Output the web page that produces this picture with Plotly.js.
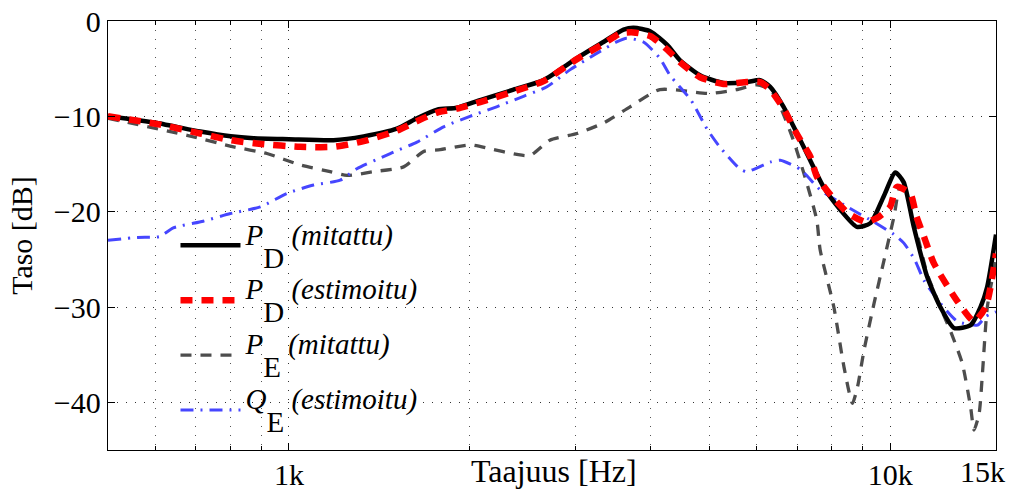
<!DOCTYPE html>
<html>
<head>
<meta charset="utf-8">
<script src="https://cdn.plot.ly/plotly-3.0.1.min.js"></script>
<style>html,body{margin:0;padding:0;background:#fff}#chart{width:1009px;height:491px}</style>
</head>
<body>
<div id="chart"></div>
<script>
// P_D (mitattu)
var fPDm = [500,603,712,800,873,1000,1186,1331,1512,1633,1764,1903,2080,2363,2652,3013,3335,3603,3743,3995,4257,4469,4828,5279,5776,6076,6316,6649,7000,7362,7748,8262,8806,9273,9755,10200,10530,10950,11520,12120,12770,13610,14140,14500,15000];
var PDm  = [-10.0,-10.7,-11.6,-12.1,-12.3,-12.4,-12.5,-12.1,-11.3,-10.2,-9.3,-9.1,-8.3,-7.2,-6.2,-3.9,-2.2,-0.9,-0.7,-1.1,-2.5,-4.1,-5.7,-6.5,-6.4,-6.2,-6.9,-9.0,-11.8,-14.6,-17.4,-19.8,-21.6,-21.2,-18.4,-15.9,-16.9,-21.6,-26.8,-30.0,-32.2,-31.9,-30.0,-27.9,-22.4];
// P_D (estimoitu)
var fPDe = [500,603,712,800,900,1044,1186,1331,1512,1633,1764,1903,2080,2363,2652,3013,3335,3556,3743,3995,4257,4469,4828,5279,5776,6076,6316,6649,7000,7362,7552,7996,8531,9130,9600,9998,10260,10800,11060,11380,11820,12940,13790,14420,15000];
var PDe  = [-10.0,-10.8,-11.8,-12.5,-12.9,-13.2,-13.2,-12.6,-11.5,-10.5,-9.6,-9.2,-8.5,-7.4,-6.3,-4.0,-2.4,-1.3,-1.2,-1.6,-3.0,-4.3,-5.9,-6.6,-6.4,-6.4,-7.2,-9.2,-11.9,-14.2,-16.3,-18.4,-20.2,-21.1,-20.5,-19.5,-17.4,-18.1,-20.5,-22.6,-25.4,-29.4,-31.5,-30.0,-24.4];
// P_E (mitattu)
var fPEm = [500,677,809,919,1044,1171,1249,1383,1551,1674,1785,2000,2160,2393,2520,2716,3013,3335,3693,4138,5016,5549,6000,6316,6565,6903,7267,7552,7648,8060,8380,8655,8824,9050,9404,9768,10150,10390,10700,11090,11520,12120,12650,13180,13610,13790,14060,14240,14510,15000];
var PEm  = [-10.2,-12.0,-13.2,-13.9,-15.1,-15.8,-16.2,-15.8,-15.3,-13.7,-13.5,-13.0,-13.4,-14.0,-14.1,-12.5,-11.8,-10.7,-9.0,-7.2,-7.6,-7.2,-6.7,-7.2,-9.0,-12.5,-17.0,-20.9,-24.0,-30.0,-36.3,-40.1,-38.4,-34.5,-29.6,-25.1,-20.5,-17.4,-18.1,-22.3,-26.5,-30.0,-32.8,-35.9,-40.5,-42.9,-41.2,-37.0,-30.0,-25.0];
// Q_E (estimoitu)
var fQEe = [500,560,610,642,720,799,896,992,1099,1217,1297,1474,1633,1808,2000,2215,2455,2686,2937,3249,3508,3645,3887,4138,4304,4663,4956,5206,5622,5776,6316,6565,7100,7648,8490,9404,10150,10540,11000,11380,12120,12940,13970,14420,15000];
var QEe  = [-23.0,-22.7,-22.6,-21.7,-21.0,-20.2,-19.5,-18.1,-17.2,-16.7,-15.5,-13.9,-12.7,-11.1,-10.0,-9.0,-7.9,-6.9,-5.1,-3.4,-2.2,-1.8,-2.2,-3.9,-5.7,-8.3,-11.3,-13.2,-15.5,-15.8,-14.8,-14.6,-15.6,-17.7,-19.5,-21.1,-22.4,-23.3,-25.1,-27.2,-29.6,-31.5,-31.9,-31.0,-30.5];

var legSym  = ['P','P','P','Q'];
var legSub  = ['D','D','E','E'];
var legDesc = ['mitattu','estimoitu','mitattu','estimoitu'];
var xTickVals = [1000,10000,15000];
var xTickText = ['1k','10k','15k'];
var xMinorVals = [600,700,800,900,2000,3000,4000,5000,6000,7000,8000,9000];
var yTickVals = [-40,-30,-20,-10,0];

function legName(i){
  return '<span style="baseline-shift:12px"><i>' + legSym[i] + '</i>' +
         '<span style="baseline-shift:-23px">' + legSub[i] + '</span> ' +
         '<i>(' + legDesc[i] + ')</i></span>';
}

var font = 'Liberation Serif, Times New Roman, serif';
var gridDash = '1px,8px';

var traces = [
  {x:fPDm, y:PDm, line:{color:'#000000', width:4.5}},
  {x:fPDe, y:PDe, line:{color:'#ff0000', width:6.5, dash:'12px,9px'}},
  {x:fPEm, y:PEm, line:{color:'#4d4d4d', width:3.3, dash:'11px,9px'}},
  {x:fQEe, y:QEe, line:{color:'#4646ff', width:3, dash:'13px,7px,2px,7px'}}
];
traces.forEach(function(t, i){
  t.type='scatter'; t.mode='lines'; t.hoverinfo='skip';
  t.name = legName(i); t.legendrank = i+1; t.legendgroup = 'g'+i;
  t.line.shape = 'spline'; t.line.smoothing = 0.6;
});
// draw order: gray and blue below, black then red on top
traces = [traces[2], traces[3], traces[0], traces[1]];

// the last tick label sits left of its tick (as in the reference) so it stays inside the page
var shownTickText = xTickText.slice(0, 2).concat(['']);

var layout = {
  width:1009, height:491,
  margin:{l:108, r:13, t:21, b:41},
  paper_bgcolor:'#ffffff', plot_bgcolor:'#ffffff',
  font:{family:font, size:30, color:'#000'},
  showlegend:true,
  legend:{x:0.076, xanchor:'left', y:0.5363, yanchor:'top', bgcolor:'rgba(0,0,0,0)', borderwidth:0,
          font:{family:font, size:29, color:'#000'}, itemwidth:60, tracegroupgap:14.2, traceorder:'grouped'},
  xaxis:{type:'log', range:[Math.log10(500), Math.log10(15000)], tickmode:'array', tickvals:xTickVals, ticktext:shownTickText,
         ticks:'inside', ticklen:7, tickcolor:'#000', showline:true, linecolor:'#000', linewidth:1.3, mirror:'ticks',
         showgrid:true, gridcolor:'#333', gridwidth:1, griddash:gridDash, zeroline:false, automargin:false,
         ticklabelstandoff:-2,
         tickfont:{family:font, size:30},
         minor:{tickmode:'array', tickvals:xMinorVals, ticks:'inside', ticklen:4, tickcolor:'#000', showgrid:true, gridcolor:'#555', gridwidth:1, griddash:gridDash}},
  yaxis:{range:[-45,0], tickmode:'array', tickvals:yTickVals,
         ticks:'inside', ticklen:7, tickcolor:'#000', showline:true, linecolor:'#000', linewidth:1.3, mirror:'ticks',
         showgrid:true, gridcolor:'#333', gridwidth:1, griddash:gridDash, zeroline:false, automargin:false,
         tickfont:{family:font, size:30},
         title:{text:'Taso [dB]', font:{family:font, size:30}, standoff:12}},
  annotations:[
    {text:'Taajuus [Hz]', xref:'paper', yref:'paper', x:0.502, y:-0.05, xanchor:'center', yanchor:'middle', showarrow:false, font:{family:font, size:32, color:'#000'}},
    {text:xTickText[2], xref:'x', yref:'paper', x:Math.log10(xTickVals[2]), y:-0.05, xanchor:'right', xshift:11, yanchor:'middle', showarrow:false, font:{family:font, size:30, color:'#000'}}
  ]
};

Plotly.newPlot('chart', traces, layout, {staticPlot:true, displayModeBar:false});
</script>
</body>
</html>
